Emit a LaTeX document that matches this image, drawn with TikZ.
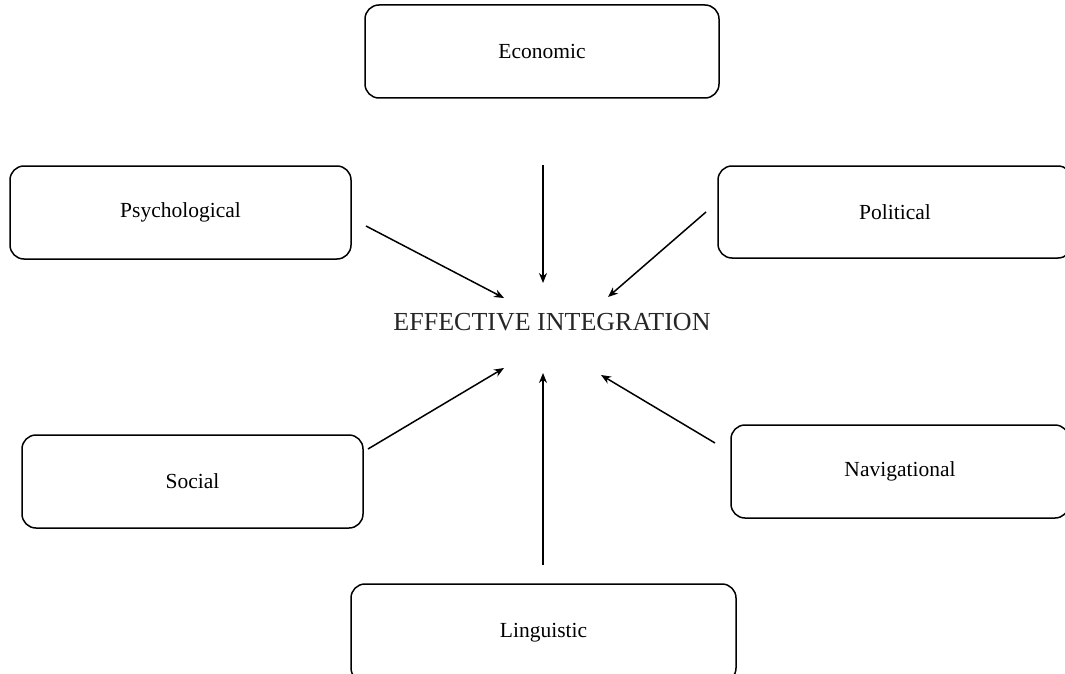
\documentclass[tikz,border=0pt]{standalone}
\usepackage{fontspec}
\setmainfont{Liberation Serif}
\usetikzlibrary{arrows.meta}
\begin{document}
\begin{tikzpicture}[x=1pt,y=-1pt,
  factorbox/.style={draw, line width=1.5pt, rounded corners=14pt, inner sep=0pt,
    font=\fontsize{21.5}{24}\selectfont},
  arr/.style={line width=1.5pt, -{Stealth[length=10pt,width=8pt]}},
  centertext/.style={inner sep=0pt, text=black!85, font=\fontsize{26}{30}\selectfont}]
\useasboundingbox (0,0) rectangle (1065,674);
\begin{scope}
\clip (0,0) rectangle (1065,674);
\node[factorbox, minimum width=354pt, minimum height=93pt] (econ) at (542,51.5) {Economic};
\node[factorbox, minimum width=341pt, minimum height=93pt] (psych) at (180.5,212.5) {Psychological};
\node[factorbox, minimum width=354pt, minimum height=92pt] (polit) at (895,212) {Political};
\node[factorbox, minimum width=341pt, minimum height=93pt] (social) at (192.5,481.5) {Social};
\node[factorbox, minimum width=338pt, minimum height=93pt] (navig) at (900,471.5) {Navigational};
\node[factorbox, minimum width=385pt, minimum height=98pt] (ling) at (543.5,633) {Linguistic};
\node[centertext] (center) at (552,322) {EFFECTIVE INTEGRATION};
\end{scope}
\coordinate (econS) at (543,165);   \coordinate (econE) at (543,283);
\coordinate (psychS) at (366,226);  \coordinate (psychE) at (504,298);
\coordinate (politS) at (706,212);  \coordinate (politE) at (608,297);
\coordinate (socialS) at (368,449); \coordinate (socialE) at (504,368);
\coordinate (lingS) at (543,565);   \coordinate (lingE) at (543,373);
\coordinate (navigS) at (715,443);  \coordinate (navigE) at (601,375);
\draw[arr] (econS) -- (econE);
\draw[arr] (psychS) -- (psychE);
\draw[arr] (politS) -- (politE);
\draw[arr] (socialS) -- (socialE);
\draw[arr] (lingS) -- (lingE);
\draw[arr] (navigS) -- (navigE);
\end{tikzpicture}
\end{document}
